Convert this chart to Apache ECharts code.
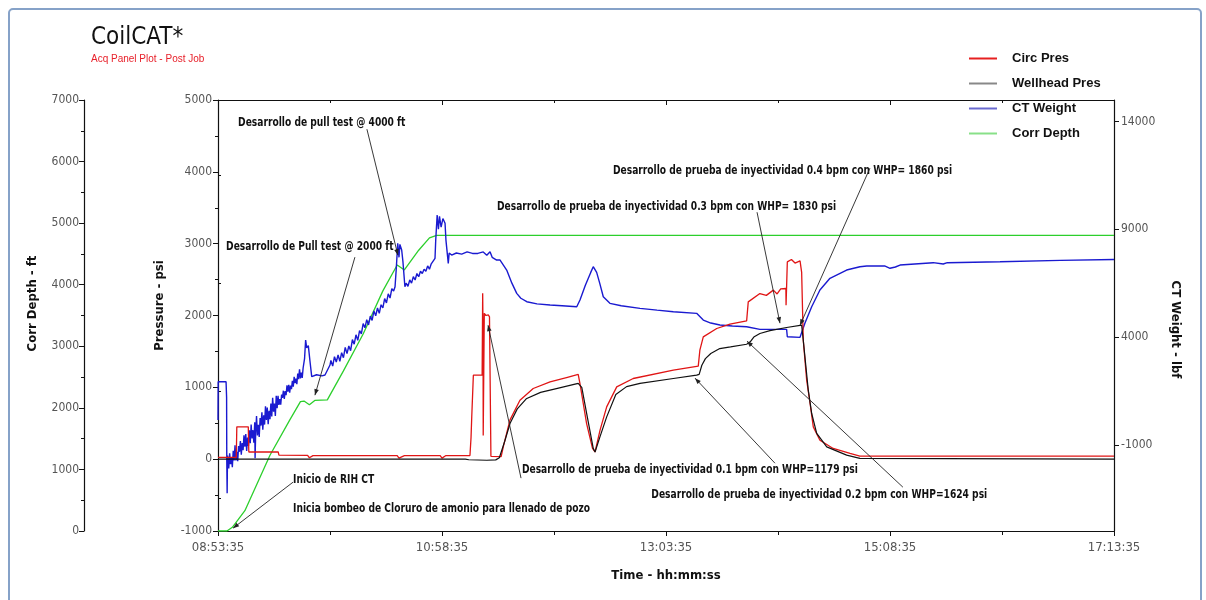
<!DOCTYPE html>
<html><head><meta charset="utf-8">
<script src="https://cdn.jsdelivr.net/npm/echarts@6/dist/echarts.min.js"></script>
<style>html,body{margin:0;padding:0;background:#fff}#c{width:1206px;height:600px}</style>
</head><body><div id="c"></div>
<script>
// ---- DATA (time = minutes after 08:53:35) ----
const startClock = [8, 53, 35];
const timeAxis = { min: 0, max: 500, interval: 125 };
const depthTicks = { min: 0, max: 7000, interval: 1000 };
const pressureTicks = { min: -1000, max: 5000, interval: 1000 };
const ctWeightRange = { min: -5000, max: 15000 };
const ctWeightTicks = [-1000, 4000, 9000, 14000];
const ctWeightMinorTicks = [-3500, 1500, 6500, 11500];

const seriesNames = ['Circ Pres', 'Wellhead Pres', 'CT Weight', 'Corr Depth'];

const circPres = [
 [0,24],[10.2,24],[10.5,450],[16.9,450],[17.2,100],[33.6,100],[34,56],[50,52],[51,20],[53,50],[100,50],[101,15],[104,48],[124,48],[125,15],[127,48],
 [140.6,50],[141.2,300],[141.6,589],[142.5,1169],[147.4,1169],[147.7,2310],[147.9,1800],[148.0,330],[148.3,330],[148.6,2030],[149.5,2000],[150.8,2010],[151.5,1980],[152.2,1960],[152.3,40],
 [158,35],[159.2,171],[162.9,543],[168.5,821],[175.9,984],[185.3,1076],[195,1140],[201,1179],[202,1050],[205.7,496],[209,150],[210.4,100],
 [213.2,404],[216.9,728],[222.5,1006],[231.7,1123],[254.1,1239],[268,1295],[268.9,1517],[270.8,1702],[278.3,1819],[285.7,1879],[295,1925],
 [295.9,2190],[302.4,2306],[306,2280],[309.9,2353],[312,2300],[314,2370],[316.9,2376],[317,2144],[317.7,2746],[320,2780],[322,2730],[324.8,2760],[325.7,2600],
 [326.6,1656],[328.5,1100],[330.4,775],[332.2,450],[335.9,264],[343.3,149],[352.7,79],[358.2,42],[420,42],[421,20],[422,42],[500,42]
];

const wellheadPres = [
 [0,0],[138,0],[140,-8],[150,-15],[155,-10],[157,20],[160,250],[163,500],[167,700],[172,840],[180,930],[190,990],[201,1054],
 [203,1000],[206,600],[209.4,150],[210.4,100],[213,300],[216.9,589],[222,900],[228,1010],[235.5,1054],[254.1,1123],[267.1,1169],
 [268.5,1180],[270,1308],[272,1400],[275,1471],[280,1540],[286,1563],[295,1600],[297,1633],[299,1700],[302.4,1750],[308,1790],
 [317.3,1833],[325.7,1865],[326.6,1656],[329.4,960],[331.3,636],[334.1,358],[339.7,171],[350.8,56],[358.2,10],[500,0]
];

const ctWeight = [
 [0,150],[0.1,1928],[4.5,1928],[4.8,1200],[4.9,-1706],[5.1,-3246],[5.3,-1500],
 [5.5,-1633],[6.0,-2102],[6.5,-1394],[7.0,-1903],[7.5,-1587],[8.0,-2040],[8.5,-1277],[9.0,-1729],[9.5,-1022],[10.0,-1730],
 [10.5,-1327],[11.0,-1763],[11.5,-1056],[12.0,-1324],[12.5,-825],[13.0,-1461],[13.5,-914],[14.0,-1246],[14.5,-555],[15.0,-1085],
 [15.5,-504],[16.0,-1282],[16.5,-661],[17.0,-1049],[17.5,-328],[18.0,-926],[18.5,-55],[19.0,-703],[19.5,-322],[20.0,-900],
 [20.5,41],[20.7,-1620],[21.0,-537],[21.5,334],[22.0,-564],[22.5,-73],[23.0,-631],[23.5,240],[24.0,-108],[24.5,504],[25.0,-305],
 [25.5,367],[26.0,-62],[26.5,790],[27.0,151],[27.5,733],[28.0,-46],[28.5,576],[29.0,187],[29.5,909],[30.0,310],[30.5,1182],
 [31.0,533],[31.5,915],[32.0,336],[32.5,1278],[33.0,699],[33.5,1271],[34.0,847],[34.5,1119],[35.0,865],[35.5,1327],[36.0,1178],
 [36.5,1510],[37.0,1131],[37.5,1493],[38.0,1304],[38.5,1756],[39.0,1462],[39.5,1779],[40.0,1415],[40.5,1752],[41.0,1583],
 [41.5,1970],[42.0,1696],[42.5,2158],[43.0,1859],[43.5,2076],[44.0,1812],[44.5,2309],[45.0,2045],[45.5,2507],[46.0,2083],
 [46.5,2355],[47.0,2101],[47.5,2563],
 [48.3,3000],[48.9,3862],[49.5,3500],[50.4,3600],[51.3,2900],[52.3,2160],[55,2250],[58,2200],[59.7,2238],[62.5,2702],
 [63,2916],[64,2654],[65,3093],[66,2841],[67,3169],[68,2877],[69,3276],[70,3044],[71,3522],[72,3230],[73,3585],[74,3370],
 [75,3884],[76,3669],[77,4104],[78,3849],[79,4303],[80,4148],[81,4623],[82,4428],[83,4809],[84,4561],[85,4972],[86,4773],
 [87,5215],[88,4986],[89,5347],[90,5098],[91,5500],[92,5354],[93,5788],[94,5582],[95,6006],[96,5810],[97,6243],[98,6137],
 [98.8,6336],[99.5,7200],[100.3,8349],[101,7700],[101.5,8300],[102.5,8038],[103.2,7500],[104.3,6336],
 [105,6500],[106,6350],[107,6650],[108,6500],[109,6800],[110,6650],[111,6950],[112,6800],[113,7050],[114,6950],[115,7150],
 [116,7050],[117,7300],[118,7150],[119,7400],[120,7350],[121.1,7653],[121.5,8500],[122.3,9662],[123,9000],[123.6,9600],
 [124.5,9100],[125.5,9500],[126.7,9278],[127.2,8500],[128.5,7421],[129,7900],[130.4,7806],[133,7900],[136,7850],[139,7950],
 [142,7880],[145,7880],[148,7950],[150,7800],[151.8,7960],[153,7700],[155.5,7574],[157.4,7574],[161.1,7110],[164,6500],
 [166.7,6029],[169,5800],[172.3,5640],[178,5540],[185.3,5486],[192,5450],[200.2,5407],[202,5718],[205,6400],[208,7000],
 [209.4,7264],[211.3,7000],[213,6500],[215,5872],[218.7,5565],[225,5450],[235.5,5333],[245,5250],[254.1,5176],[267.1,5101],
 [270.8,4790],[275,4650],[280.1,4558],[287,4510],[295,4480],[302.4,4358],[317.3,4358],[317.7,4016],[324.8,3987],[325.7,3950],
 [327.5,4637],[331.3,5407],[335.9,6182],[341.5,6725],[350.8,7110],[358.2,7264],[362,7300],[372,7300],[375,7190],[378,7250],
 [380.6,7342],[399.1,7451],[404.7,7389],[407,7450],[436.4,7496],[470,7560],[500,7600]
];

const corrDepth = [
 [0,0],[5,0],[8,60],[15,330],[29,1230],[40,1800],[46,2100],[48,2110],[51,2050],[54,2120],[61,2130],[70,2600],[81,3200],
 [92,3900],[100,4320],[104,4240],[112,4560],[118,4760],[122,4800],[128,4800],[500,4800]
];

// annotations: text anchor [t, psi], arrow from [t, psi] to [t, psi]
const annotationTexts = [
 'Desarrollo de pull test @ 4000 ft',
 'Desarrollo de Pull test @ 2000 ft',
 'Inicio de RIH CT',
 'Inicia bombeo de Cloruro de amonio para llenado de pozo',
 'Desarrollo de prueba de inyectividad 0.1 bpm con WHP=1179 psi',
 'Desarrollo de prueba de inyectividad 0.2 bpm con WHP=1624 psi',
 'Desarrollo de prueba de inyectividad 0.3 bpm con WHP= 1830 psi',
 'Desarrollo de prueba de inyectividad 0.4 bpm con WHP= 1860 psi'
];
const annotationAnchors = [[11.2,4691],[4.5,2965],[41.9,-278],[41.9,-682],[169.6,-139],[241.8,-487],[155.7,3522],[220.4,4023]];
const annotationArrows = [
 [[83.1,4594],[100.4,2840]],
 [[76.4,2812],[54.1,891]],
 [[41.9,-320],[8.4,-960]],
 [[169.1,-264],[150.7,1865]],
 [[310.8,-56],[266.2,1128]],
 [[382.2,-390],[295.2,1643]],
 [[300.8,3438],[313.6,1893]],
 [[363.8,4051],[324.8,1865]]
];

// ---- CHART ----
const COND = '"DejaVu Sans Condensed","DejaVu Sans",sans-serif';
const ARIAL = '"Liberation Sans",Arial,sans-serif';
const pad = n => (n < 10 ? '0' : '') + n;
const startSec = startClock[0]*3600 + startClock[1]*60 + startClock[2];
function fmtTime(v){ const s = startSec + Math.round(v*60); return pad(Math.floor(s/3600))+':'+pad(Math.floor(s%3600/60))+':'+pad(s%60); }
const plain = v => String(v);

const lblStyle = { color:'#555', fontFamily: COND, fontSize: 12 };
const nameStyle = (extra) => Object.assign({ color:'#111', fontFamily: COND, fontSize: 13, fontWeight:'bold' }, extra || {});
const axLine = { show:true, onZero:false, lineStyle:{ color:'#111', width:1.2 } };
const tick = (len, extra) => Object.assign({ show:true, length:len, lineStyle:{color:'#111'} }, extra || {});

const chart = echarts.init(document.getElementById('c'));
const option = {
  animation: false,
  backgroundColor: '#fff',
  title: {
    text: 'CoilCAT*', subtext: 'Acq Panel Plot - Post Job', left: 86, top: 21, itemGap: 4,
    textStyle: { fontFamily: COND, fontSize: 24, fontWeight: 'normal', color: '#111' },
    subtextStyle: { fontFamily: ARIAL, fontSize: 10, color: '#e8202a' }
  },
  legend: {
    orient: 'vertical', left: 964, top: 47, itemWidth: 28, itemHeight: 10, itemGap: 12,
    textStyle: { fontFamily: ARIAL, fontSize: 13, fontWeight: 'bold', color: '#111', padding: [0,0,0,10] },
    data: [
      { name: seriesNames[0], icon: 'path://M0,0H28V2H0Z', itemStyle: { color: '#e62020' } },
      { name: seriesNames[1], icon: 'path://M0,0H28V2H0Z', itemStyle: { color: '#888' } },
      { name: seriesNames[2], icon: 'path://M0,0H28V2H0Z', itemStyle: { color: '#6a6ad0' } },
      { name: seriesNames[3], icon: 'path://M0,0H28V2H0Z', itemStyle: { color: '#88e088' } }
    ]
  },
  grid: { left: 218, right: 92, top: 100, bottom: 69, containLabel: false },
  xAxis: [
    { type:'value', position:'bottom', min: timeAxis.min, max: timeAxis.max, interval: timeAxis.interval,
      axisLine: axLine, axisTick: tick(5), minorTick: { show:true, splitNumber:2, length:4, lineStyle:{color:'#111'} },
      splitLine: { show:false }, minorSplitLine:{show:false},
      axisLabel: Object.assign({}, lblStyle, { formatter: fmtTime, margin: 10, fontSize: 13 }),
      name: 'Time - hh:mm:ss', nameLocation: 'middle', nameGap: 38, nameTextStyle: nameStyle() },
    { type:'value', position:'top', min: timeAxis.min, max: timeAxis.max, interval: timeAxis.interval,
      axisLine: axLine, axisTick: tick(5, { inside:true }),
      minorTick: { show:true, splitNumber:2, length:3, lineStyle:{color:'#111'} },
      splitLine: { show:false }, axisLabel: { show:false } }
  ],
  yAxis: [
    { type:'value', position:'left', offset: 134, min: depthTicks.min, max: depthTicks.max, interval: depthTicks.interval,
      axisLine: axLine, axisTick: tick(5), minorTick: { show:true, splitNumber:2, length:3, lineStyle:{color:'#111'} },
      splitLine: { show:false }, axisLabel: Object.assign({}, lblStyle, { margin: 5, formatter: plain }),
      name: 'Corr Depth - ft', nameLocation:'middle', nameRotate: 90, nameGap: 45,
      nameTextStyle: nameStyle({ padding: [0,0,0,24] }) },
    { type:'value', position:'left', offset: 0, min: pressureTicks.min, max: pressureTicks.max, interval: pressureTicks.interval,
      axisLine: axLine, axisTick: tick(5), minorTick: { show:true, splitNumber:2, length:3, lineStyle:{color:'#111'} },
      splitLine: { show:false }, axisLabel: Object.assign({}, lblStyle, { margin: 6, formatter: plain }),
      name: 'Pressure - psi', nameLocation:'middle', nameRotate: 90, nameGap: 52,
      nameTextStyle: nameStyle({ padding: [0,0,0,20] }) },
    { type:'value', position:'right', offset: 0, min: ctWeightRange.min, max: ctWeightRange.max,
      axisLine: axLine, axisTick: tick(5, { customValues: ctWeightTicks }),
      splitLine: { show:false }, axisLabel: Object.assign({}, lblStyle, { margin: 7, customValues: ctWeightTicks, formatter: plain }),
      name: 'CT Weight - lbf', nameLocation:'middle', nameRotate: -90, nameGap: 55,
      nameTextStyle: nameStyle({ padding: [0,0,0,28] }) },
    { type:'value', position:'right', offset: 0, min: ctWeightRange.min, max: ctWeightRange.max,
      axisLine: { show:false }, axisTick: tick(3, { customValues: ctWeightMinorTicks }),
      splitLine: { show:false }, axisLabel: { show:false } }
  ],
  series: [
    { name: seriesNames[3], type:'line', xAxisIndex:0, yAxisIndex:0, data: corrDepth, showSymbol:false, symbol:'none',
      lineStyle:{ color:'#2ccf2c', width:1.3 }, itemStyle:{color:'#2ccf2c'} },
    { name: seriesNames[2], type:'line', xAxisIndex:0, yAxisIndex:2, data: ctWeight, showSymbol:false, symbol:'none',
      lineStyle:{ color:'#1a1ad0', width:1.4 }, itemStyle:{color:'#1a1ad0'} },
    { name: seriesNames[0], type:'line', xAxisIndex:0, yAxisIndex:1, data: circPres, showSymbol:false, symbol:'none',
      lineStyle:{ color:'#e01515', width:1.3 }, itemStyle:{color:'#e01515'} },
    { name: seriesNames[1], type:'line', xAxisIndex:0, yAxisIndex:1, data: wellheadPres, showSymbol:false, symbol:'none',
      lineStyle:{ color:'#111', width:1.2 }, itemStyle:{color:'#111'} }
  ]
};
chart.setOption(option);

const conv = p => chart.convertToPixel({ xAxisIndex: 0, yAxisIndex: 1 }, p);
const graphics = [{
  type:'rect', z: 100, silent:true, shape:{ x:9, y:9, width:1192, height:610, r:4 },
  style:{ fill:'none', stroke:'#86a2c8', lineWidth:2 }
}];
annotationTexts.forEach((txt, i) => {
  const a = conv(annotationAnchors[i]);
  graphics.push({ type:'text', z: 50, x: a[0], y: a[1], scaleX: 0.78, style:{ text: txt, fill:'#111',
    fontFamily: COND, fontSize: 13, fontWeight:'bold', align:'left', verticalAlign:'middle' } });
  const p1 = conv(annotationArrows[i][0]), p2 = conv(annotationArrows[i][1]);
  graphics.push({ type:'line', z: 50, shape:{ x1:p1[0], y1:p1[1], x2:p2[0], y2:p2[1] }, style:{ stroke:'#222', lineWidth:0.9 } });
  const ang = Math.atan2(p2[1]-p1[1], p2[0]-p1[0]);
  const L = 6, W = 2.3, dx = Math.cos(ang), dy = Math.sin(ang);
  graphics.push({ type:'polygon', z: 50, shape:{ points: [
    [p2[0], p2[1]],
    [p2[0]-L*dx - W*dy, p2[1]-L*dy + W*dx],
    [p2[0]-L*dx + W*dy, p2[1]-L*dy - W*dx]
  ]}, style:{ fill:'#222' } });
});
chart.setOption({ graphic: graphics });
</script>
</body></html>
